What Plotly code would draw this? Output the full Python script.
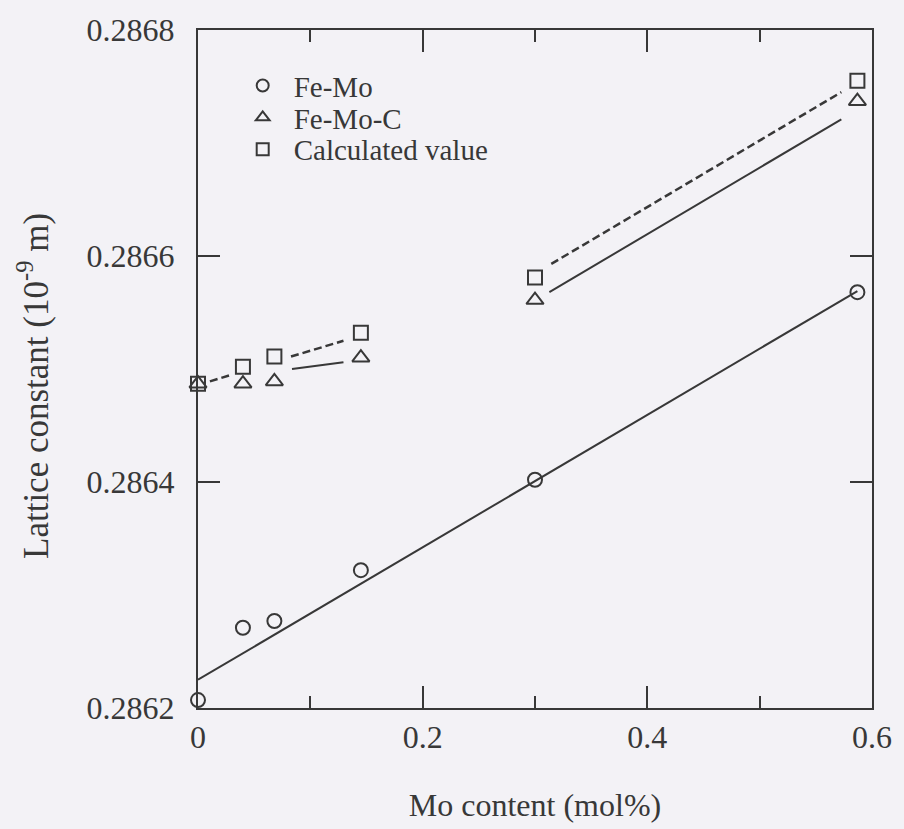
import plotly.graph_objects as go

# ---- data ----
mo_fe_mo = [0.0, 0.04, 0.068, 0.145, 0.30, 0.587]
a_fe_mo = [0.286207, 0.286271, 0.286277, 0.286322, 0.286402, 0.286568]

mo_fe_mo_c = [0.0, 0.04, 0.068, 0.145, 0.30, 0.587]
a_fe_mo_c = [0.286487, 0.286487, 0.286489, 0.286510, 0.286561, 0.286737]

mo_calc = [0.0, 0.04, 0.068, 0.145, 0.30, 0.587]
a_calc = [0.286487, 0.286502, 0.286511, 0.286532, 0.286581, 0.286755]

# fitted / guide lines
fit_fe_mo_x = [0.0, 0.587]
fit_fe_mo_y = [0.286225, 0.286569]

seg_fe_mo_c_x = [0.0837, 0.1295, None, 0.3128, 0.5727]
seg_fe_mo_c_y = [0.286500, 0.286506, None, 0.286568, 0.286721]

seg_calc_x = [0.0106, 0.030, None, 0.0828, 0.1295, None, 0.3145, 0.5727]
seg_calc_y = [0.286489, 0.286495, None, 0.286511, 0.286525, None, 0.286593, 0.286745]

x_ticks = [0, 0.2, 0.4, 0.6]
x_tick_text = ["0", "0.2", "0.4", "0.6"]
y_ticks = [0.2862, 0.2864, 0.2866, 0.2868]
y_tick_text = ["0.2862", "0.2864", "0.2866", "0.2868"]

INK = "#383838"
BG = "#f3f2f6"
FONT = "Liberation Serif"

fig = go.Figure()

# lines
fig.add_trace(go.Scatter(x=fit_fe_mo_x, y=fit_fe_mo_y, mode="lines",
                         line=dict(color=INK, width=2), showlegend=False,
                         hoverinfo="skip"))
fig.add_trace(go.Scatter(x=seg_fe_mo_c_x, y=seg_fe_mo_c_y, mode="lines",
                         line=dict(color=INK, width=2), showlegend=False,
                         connectgaps=False, hoverinfo="skip"))
fig.add_trace(go.Scatter(x=seg_calc_x, y=seg_calc_y, mode="lines",
                         line=dict(color=INK, width=2.5, dash="8px,4px"),
                         showlegend=False, connectgaps=False, hoverinfo="skip"))

# markers
mk = dict(color="rgba(0,0,0,0)", line=dict(color=INK, width=2))
fig.add_trace(go.Scatter(x=mo_fe_mo, y=a_fe_mo, mode="markers", name="Fe-Mo",
                         marker=dict(symbol="circle", size=14, **mk),
                         cliponaxis=False, legend="legend"))
fig.add_trace(go.Scatter(x=mo_fe_mo_c, y=a_fe_mo_c, mode="markers", name="Fe-Mo-C",
                         marker=dict(symbol="triangle-up", size=15, **mk),
                         cliponaxis=False, legend="legend2"))
fig.add_trace(go.Scatter(x=mo_calc, y=a_calc, mode="markers", name="Calculated value",
                         marker=dict(symbol="square", size=14, **mk),
                         cliponaxis=False, legend="legend3"))

leg_common = dict(x=0.05, xanchor="left", yanchor="middle", bgcolor="rgba(0,0,0,0)",
                  font=dict(family=FONT, size=29, color=INK), itemsizing="constant",
                  itemwidth=52, borderwidth=0)

fig.update_layout(
    width=904, height=829,
    margin=dict(l=198, r=25, t=26, b=118),
    paper_bgcolor=BG, plot_bgcolor=BG,
    font=dict(family=FONT, size=32, color=INK),
    legend=dict(y=0.918, **leg_common),
    legend2=dict(y=0.871, **leg_common),
    legend3=dict(y=0.824, **leg_common),
    xaxis=dict(
        range=[0, 0.6], tickvals=x_ticks, ticktext=x_tick_text,
        ticks="inside", ticklen=22, tickwidth=2, tickcolor=INK,
        showline=True, linecolor=INK, linewidth=2, mirror="allticks",
        showgrid=False, zeroline=False,
        minor=dict(tickvals=[0.1, 0.3, 0.5], ticks="inside", ticklen=12,
                   tickwidth=2, tickcolor=INK, showgrid=False),
        tickfont=dict(family=FONT, size=32, color=INK),
        title=dict(text="Mo content (mol%)", standoff=39,
                   font=dict(family=FONT, size=32, color=INK)),
    ),
    yaxis=dict(
        range=[0.2862, 0.2868], tickvals=y_ticks, ticktext=y_tick_text,
        ticks="inside", ticklen=22, tickwidth=2, tickcolor=INK,
        showline=True, linecolor=INK, linewidth=2, mirror="allticks",
        showgrid=False, zeroline=False, ticklabelstandoff=15,
        tickfont=dict(family=FONT, size=32, color=INK),
    ),
    annotations=[dict(
        text="Lattice constant (10<sup>-9</sup> m)", textangle=-90,
        xref="paper", yref="paper", x=-0.2438, y=0.4745,
        xanchor="center", yanchor="middle", showarrow=False,
        font=dict(family=FONT, size=35, color=INK),
    )],
)

fig.write_html("out.html")
